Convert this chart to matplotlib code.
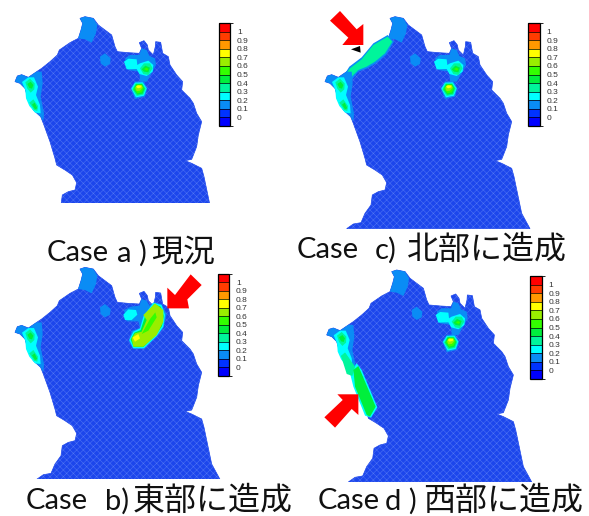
#!/usr/bin/env python3
"""Four map panels of the bay, one band-coloured field per construction case."""
import matplotlib
matplotlib.use("Agg")
import matplotlib.pyplot as plt
from matplotlib.cm import ScalarMappable
from matplotlib.colors import BoundaryNorm, ListedColormap
from matplotlib.patches import Polygon

W, H = 589, 516
plt.rcParams["hatch.linewidth"] = 0.35

LEVELS = [-0.05, 0, 0.1, 0.2, 0.3, 0.4, 0.5, 0.6, 0.7, 0.8, 0.9, 1, 1.05]
BAND_COLORS = ["#0000ff", "#0033ff", "#0a8cf5", "#00ffff", "#00f59b", "#00ef3c",
               "#33ff00", "#99ee00", "#ffff00", "#ff9900", "#ff3c00", "#ff0000"]
TICKS = [0, 0.1, 0.2, 0.3, 0.4, 0.5, 0.6, 0.7, 0.8, 0.9, 1]
TICK_LABELS = ["0", "0.1", "0.2", "0.3", "0.4", "0.5", "0.6", "0.7", "0.8", "0.9", "1"]
cmap = ListedColormap(BAND_COLORS)
norm = BoundaryNorm(LEVELS, cmap.N)

# coastline, map units (3 per output pixel, y down)
COAST = [(110, 686), (130, 672), (153, 668), (165, 640), (183, 615), (187, 585),
         (205, 575), (225, 570), (230, 548), (217, 525), (195, 510), (170, 495),
         (165, 475), (150, 425), (130, 370), (122, 350), (100, 330), (85, 300),
         (75, 265), (60, 250), (45, 245), (52, 228), (65, 224), (85, 232),
         (110, 215), (125, 205), (150, 185), (172, 165), (178, 150), (210, 128),
         (235, 115), (243, 90), (248, 70), (240, 55), (255, 50), (280, 55),
         (295, 75), (315, 90), (335, 105), (345, 140), (352, 155), (385, 158),
         (418, 160), (425, 145), (418, 128), (432, 122), (442, 135), (445, 150),
         (460, 165), (466, 140), (467, 125), (482, 127), (488, 160), (505, 170),
         (510, 195), (530, 225), (548, 245), (545, 270), (570, 295), (580, 310),
         (590, 340), (605, 365), (595, 405), (590, 440), (575, 478), (555, 482),
         (575, 490), (605, 505), (612, 530), (635, 640), (660, 686)]

# contour bands: (band value, outline)
NORTH_HUMP = [(0.15, [(240, 55), (255, 50), (280, 55), (292, 75), (288, 100), (275, 128),
                      (255, 118), (235, 115), (243, 90), (248, 70)])]
MID_BLOB = [(0.15, [(300, 170), (315, 160), (332, 175), (330, 192), (315, 200), (302, 190)])]
WEST_FIELD = [
    (0.15, [(45, 245), (52, 228), (65, 224), (85, 232), (110, 215), (125, 215), (128, 250),
            (122, 290), (132, 340), (130, 365), (122, 350), (100, 330), (85, 300), (75, 265), (60, 250)]),
    (0.25, [(66, 246), (85, 232), (102, 232), (114, 260), (108, 285), (120, 315), (122, 340),
            (105, 338), (88, 318), (78, 295), (76, 270)]),
    (0.35, [(76, 247), (90, 236), (104, 250), (103, 268), (92, 278), (82, 266)]),
    (0.35, [(88, 308), (100, 298), (114, 318), (112, 333), (102, 330)]),
    (0.45, [(82, 252), (92, 245), (100, 255), (96, 266), (88, 264)]),
    (0.45, [(96, 314), (104, 308), (112, 325), (105, 328)]),
]
NE_PATCH = [
    (0.15, [(375, 175), (390, 165), (418, 165), (425, 145), (440, 150), (448, 168), (465, 175),
            (468, 195), (452, 225), (440, 245), (420, 245), (418, 215), (385, 210)]),
    (0.25, [(372, 185), (385, 176), (410, 178), (412, 195), (420, 190), (445, 182), (460, 195),
            (458, 215), (440, 228), (418, 222), (410, 207), (380, 208)]),
    (0.35, [(420, 205), (432, 190), (450, 190), (458, 205), (445, 225), (430, 222)]),
    (0.45, [(425, 208), (436, 197), (450, 203), (445, 217), (432, 215)]),
    (0.55, [(432, 207), (440, 203), (446, 208), (440, 212)]),
]
SOUTH_BLOB = [
    (0.15, [(392, 265), (405, 245), (430, 243), (442, 265), (435, 290), (405, 297)]),
    (0.25, [(394, 266), (405, 248), (428, 247), (440, 265), (432, 287), (408, 292)]),
    (0.35, [(397, 268), (407, 250), (427, 250), (437, 266), (430, 284), (410, 288)]),
    (0.45, [(400, 268), (408, 252), (426, 252), (434, 266), (428, 281), (412, 284)]),
    (0.55, [(403, 266), (410, 254), (425, 254), (431, 265), (425, 277), (412, 280)]),
    (0.65, [(406, 263), (412, 255), (425, 255), (428, 263), (420, 272), (410, 273)]),
    (0.75, [(408, 260), (414, 256), (424, 257), (424, 262), (414, 265)]),
]
EAST_FILL = [
    (0.15, [(372, 178), (392, 168), (418, 165), (425, 145), (440, 150), (448, 165), (462, 155),
            (484, 160), (500, 190), (490, 232), (470, 258), (432, 293), (398, 293), (386, 270),
            (396, 240), (420, 232), (415, 212), (380, 212)]),
    (0.25, [(370, 192), (385, 176), (408, 178), (412, 192), (395, 208), (375, 208)]),
    (0.25, [(388, 268), (400, 243), (420, 233), (430, 198), (460, 156), (485, 163), (495, 193),
            (490, 228), (470, 256), (432, 293), (400, 293)]),
    (0.45, [(392, 266), (403, 246), (422, 238), (434, 200), (462, 160), (482, 168), (491, 195),
            (486, 226), (468, 252), (430, 289), (401, 289)]),
    (0.65, [(395, 263), (405, 248), (425, 243), (440, 208), (430, 193), (465, 158), (490, 178),
            (490, 213), (470, 253), (430, 288), (400, 288)]),
    (0.55, [(425, 250), (450, 205), (466, 185), (470, 200), (445, 240)]),
    (0.75, [(398, 260), (415, 250), (420, 263), (405, 273)]),
]
NORTH_STRIP = [
    (0.15, [(98, 232), (118, 200), (155, 172), (190, 130), (233, 105), (252, 125), (228, 165),
            (198, 190), (172, 205), (145, 215), (125, 240)]),
    (0.35, [(105, 225), (120, 205), (155, 178), (190, 135), (233, 110), (247, 125), (225, 160),
            (195, 185), (170, 200), (145, 210), (120, 235)]),
]
WEST_STRIP = [
    (0.25, [(115, 360), (135, 330), (150, 350), (197, 462), (178, 493), (160, 487), (125, 400)]),
    (0.35, [(88, 308), (100, 298), (130, 340), (122, 368), (105, 362)]),
    (0.45, [(125, 350), (140, 338), (192, 460), (175, 490), (165, 485), (130, 400)]),
]

CASE_A = NORTH_HUMP + MID_BLOB + WEST_FIELD + NE_PATCH + SOUTH_BLOB
CASE_B = NORTH_HUMP + MID_BLOB + WEST_FIELD + EAST_FILL
CASE_C = NORTH_HUMP + MID_BLOB + NORTH_STRIP + WEST_FIELD + NE_PATCH + SOUTH_BLOB
CASE_D = NORTH_HUMP + MID_BLOB + WEST_FIELD + WEST_STRIP + NE_PATCH + SOUTH_BLOB

ARROW_B = [(572, 71), (605, 103), (562, 146), (567, 173), (502, 173), (502, 111), (525, 133)]
ARROW_C = [(90, 33), (140, 88), (160, 72), (160, 135), (97, 135), (115, 113), (60, 62)]
ARROW_D = [(77, 423), (140, 423), (140, 485), (120, 467), (70, 523), (38, 492), (93, 440)]
WEDGE_C = [(123, 148), (150, 138), (152, 158)]


def panel(fig, off_x, off_y, crop, field, arrow=None, wedge=None):
    # axes hold the map at 3 units per pixel, cropped at y = crop
    w_px, h_px = 235, crop / 3
    ax = fig.add_axes([off_x / W, 1 - (off_y + h_px) / H, w_px / W, h_px / H])
    ax.set_xlim(0, w_px * 3)
    ax.set_ylim(crop, 0)
    ax.axis("off")
    ax.add_patch(Polygon(COAST, closed=True, facecolor="#1c46ec", edgecolor="#1c46ec", lw=0.5,
                         zorder=1))
    ax.add_patch(Polygon(COAST, closed=True, fill=False, hatch="xxxxx", edgecolor="#5a7ef4",
                         lw=0, alpha=0.85, zorder=1.5))
    for value, pts in field:
        ax.add_patch(Polygon(pts, closed=True, facecolor=cmap(norm(value)),
                             edgecolor="none", zorder=2))
    if arrow:
        ax.add_patch(Polygon(arrow, closed=True, facecolor="#ff0000", edgecolor="none",
                             zorder=5, clip_on=False))
    if wedge:
        ax.add_patch(Polygon(wedge, closed=True, facecolor="black", edgecolor="none",
                             zorder=5, clip_on=False))


def legend(fig, left, top, bottom):
    cax = fig.add_axes([left / W, 1 - bottom / H, 11.5 / W, (bottom - top) / H])
    sm = ScalarMappable(norm=norm, cmap=cmap)
    cb = fig.colorbar(sm, cax=cax, boundaries=LEVELS, spacing="uniform", ticks=TICKS,
                      drawedges=True)
    cb.ax.set_yticklabels(TICK_LABELS, fontsize=6, color="#333333", family="Liberation Sans")
    cb.ax.tick_params(length=0, pad=5)
    cb.outline.set_linewidth(0.9)
    cb.dividers.set_linewidth(0.5)


def title(fig, y, case_x, letter, letter_x, cjk, cjk_x):
    for s, x in (("Case", case_x), (letter, letter_x)):
        fig.text(x / W, 1 - y / H, s, fontsize=21, va="center", ha="left",
                 family="Lato", color="#111111")
    fig.text(cjk_x / W, 1 - y / H, cjk, fontsize=23, va="center", ha="left",
             family=["Noto Sans CJK JP", "DejaVu Sans"], color="#111111")


def main():
    fig = plt.figure(figsize=(W / 100, H / 100), dpi=100)

    panel(fig, 0, 0, 608, CASE_A)
    panel(fig, 310, 0, 686, CASE_C, arrow=ARROW_C, wedge=WEDGE_C)
    panel(fig, 0, 250.7, 686, CASE_B, arrow=ARROW_B)
    panel(fig, 311.7, 253.3, 686, CASE_D, arrow=ARROW_D)

    legend(fig, 218.5, 23, 126)
    legend(fig, 528, 23, 126)
    legend(fig, 217.5, 273.5, 376)
    legend(fig, 530, 276, 379)

    title(fig, 253, 47, "a )", 117, "現況", 151)
    title(fig, 250, 297, "c)", 375, "北部に造成", 407)
    title(fig, 501, 26, "b)", 105, "東部に造成", 133)
    title(fig, 501, 318, "d )", 385, "西部に造成", 423)

    fig.savefig("out.png", dpi=100)
    plt.close(fig)


if __name__ == "__main__":
    main()
